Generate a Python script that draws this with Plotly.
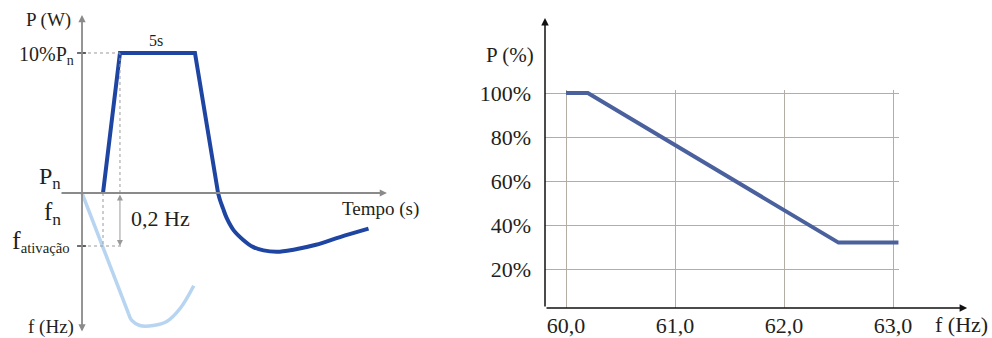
import plotly.graph_objects as go

W, H = 992, 338

# ---- Left diagram: power response to an over-frequency event ----
# time in s, power step in % of Pn, frequency deviation in Hz above fn
T_POWER = [1.4, 2.53, 7.53, 9.07]
P_POWER = [0, 10, 10, 0]
T_RECOVERY = [9.07, 9.2, 9.4, 9.65, 10.1, 10.75, 11.4, 12.1, 13.0, 14.1, 15.6, 17.2, 19.1]
P_RECOVERY = [0, -0.5, -1.1, -1.8, -2.65, -3.35, -3.85, -4.1, -4.2, -4.05, -3.7, -3.15, -2.55]
T_FREQ_RISE = [0, 3.1]
DF_FREQ_RISE = [0, 0.455]
T_FREQ_CURVE = [3.1, 3.3, 3.85, 4.75, 5.65, 6.55, 7.45]
DF_FREQ_CURVE = [0.455, 0.48, 0.5, 0.5, 0.485, 0.435, 0.35]
P_STEP = 10          # 10% Pn
DF_ACTIVATION = 0.2  # 0,2 Hz

# ---- Right chart: power limit vs frequency ----
F_HZ = [60.0, 60.2, 62.5, 63.05]
P_PCT = [100, 100, 32, 32]
X_TICKS = [60, 61, 62, 63]
X_TICK_TEXT = ["60,0", "61,0", "62,0", "63,0"]
Y_TICKS = [20, 40, 60, 80, 100]
Y_TICK_TEXT = ["20%", "40%", "60%", "80%", "100%"]

FONT = "Liberation Serif, Times New Roman, DejaVu Serif, serif"
TXT = "#231f20"
DARK_BLUE = "#1f45a3"
LIGHT_BLUE = "#b7d4f1"
LINE_RIGHT = "#4a619d"
GRID = "#b3ada5"
AXIS_GRAY = "#8a8a8a"
GUIDE = "#9a9a9a"

fig = go.Figure()

fig.add_trace(go.Scatter(x=T_FREQ_RISE, y=DF_FREQ_RISE, mode="lines", xaxis="x", yaxis="y3",
                         line=dict(color=LIGHT_BLUE, width=3.5), hoverinfo="skip"))
fig.add_trace(go.Scatter(x=T_FREQ_CURVE, y=DF_FREQ_CURVE, mode="lines", xaxis="x", yaxis="y3",
                         line=dict(color=LIGHT_BLUE, width=3.5, shape="spline", smoothing=1),
                         hoverinfo="skip"))
fig.add_trace(go.Scatter(x=T_POWER, y=P_POWER, mode="lines", xaxis="x", yaxis="y",
                         line=dict(color=DARK_BLUE, width=4), hoverinfo="skip"))
fig.add_trace(go.Scatter(x=T_RECOVERY, y=P_RECOVERY, mode="lines", xaxis="x", yaxis="y",
                         line=dict(color=DARK_BLUE, width=4, shape="spline", smoothing=1),
                         hoverinfo="skip"))
fig.add_trace(go.Scatter(x=F_HZ, y=P_PCT, mode="lines", xaxis="x2", yaxis="y2",
                         line=dict(color=LINE_RIGHT, width=4), hoverinfo="skip"))

# left diagram axis ranges (no visible scale)
XL = [-1.467, 20.533]
PL = [-10.143, 13.071]
FL = [0.5358, -0.6906]   # frequency grows downward
XR = [59.807, 63.055]
YR = [2.27, 101.4]

t_ramp, t_top = T_POWER[0], T_POWER[1]

shapes = [
    # guide lines
    dict(type="line", xref="x", yref="y", x0=0, x1=t_top, y0=P_STEP, y1=P_STEP,
         line=dict(color=GUIDE, width=1, dash="dot")),
    dict(type="line", xref="x", yref="y", x0=t_top, x1=t_top, y0=0, y1=P_STEP,
         line=dict(color=GUIDE, width=1, dash="dot")),
    dict(type="line", xref="x", yref="y3", x0=0, x1=t_top + 0.13, y0=DF_ACTIVATION, y1=DF_ACTIVATION,
         line=dict(color=GUIDE, width=1, dash="dot")),
    dict(type="line", xref="x", yref="y3", x0=t_ramp, x1=t_ramp, y0=0, y1=DF_ACTIVATION,
         line=dict(color=GUIDE, width=1, dash="dot")),
    # tick marks on the vertical axis
    dict(type="line", xref="x", yref="y", x0=-0.33, x1=0.27, y0=P_STEP, y1=P_STEP,
         line=dict(color="#222", width=1.3)),
    dict(type="line", xref="x", yref="y3", x0=-0.33, x1=0.27, y0=DF_ACTIVATION, y1=DF_ACTIVATION,
         line=dict(color="#222", width=1.3)),
]

annotations = []


def arrow(x, y, ax, ay, xref, yref, color, width, side="end", size=1.0):
    annotations.append(dict(x=x, y=y, ax=ax, ay=ay, xref=xref, yref=yref, axref=xref, ayref=yref,
                            text="", showarrow=True, arrowhead=2, arrowside=side,
                            arrowsize=size, arrowwidth=width, arrowcolor=color))


# left axes
arrow(20.33, 0, XL[0], 0, "x", "y", AXIS_GRAY, 1.8, size=0.8)
arrow(0, 12.714, 0, -10.0, "x", "y", AXIS_GRAY, 1.8, side="end+start", size=0.8)
# 0,2 Hz span
arrow(t_top, DF_ACTIVATION, t_top, 0, "x", "y3", GUIDE, 1, side="end+start", size=1.2)
# right axes
arrow(63.68, YR[0], XR[0], YR[0], "x2", "y2", "#111", 1.5, size=1.0)
arrow(XR[0], 134.1, XR[0], YR[0], "x2", "y2", "#111", 1.5, size=1.0)


def label(text, px, py, size, xanchor="center", yanchor="middle"):
    annotations.append(dict(text=text, x=px / W, y=1 - py / H, xref="paper", yref="paper",
                            xanchor=xanchor, yanchor=yanchor, showarrow=False,
                            font=dict(family=FONT, size=size, color=TXT)))


label("P (W)", 73, 20, 19, "right")
label("10%P<sub>n</sub>", 76, 55, 20, "right")
label("P<sub>n</sub>", 63, 178, 24, "right")
label("f<sub>n</sub>", 63, 213, 25, "right")
label("<span style='font-size:26px'>f</span><sub>ativação</sub>", 72, 241, 21, "right")
label("f (Hz)", 76, 327, 19, "right")
label("5s", 156, 41, 16)
label("0,2 Hz", 129, 218, 22, "left")
label("Tempo (s)", 340, 209, 19, "left")
label("P (%)", 484, 55, 21, "left")
label("f (Hz)", 933, 324, 22, "left")

fig.update_layout(
    template="none",
    width=W, height=H,
    margin=dict(l=0, r=0, t=0, b=0, pad=0),
    font=dict(family=FONT, color=TXT),
    paper_bgcolor="white", plot_bgcolor="white",
    showlegend=False,
    xaxis=dict(domain=[60 / W, 390 / W], range=XL, visible=False, fixedrange=True,
               automargin=False),
    yaxis=dict(domain=[1 - 335 / H, 1 - 10 / H], range=PL, visible=False, fixedrange=True,
               automargin=False),
    yaxis3=dict(overlaying="y", range=FL, visible=False, fixedrange=True, automargin=False),
    xaxis2=dict(domain=[545 / W, 899 / W], anchor="y2", range=XR, tickvals=X_TICKS,
                ticktext=X_TICK_TEXT, showgrid=True, gridcolor=GRID, gridwidth=1.2,
                zeroline=False, showline=False, ticks="", ticklabelstandoff=2,
                tickfont=dict(family=FONT, size=22, color=TXT), fixedrange=True,
                automargin=False),
    yaxis2=dict(domain=[1 - 308 / H, 1 - 90 / H], anchor="x2", range=YR, tickvals=Y_TICKS,
                ticktext=Y_TICK_TEXT, showgrid=True, gridcolor=GRID, gridwidth=1.2,
                zeroline=False, showline=False, ticks="", ticklabelstandoff=13,
                tickfont=dict(family=FONT, size=22, color=TXT), fixedrange=True,
                automargin=False),
    shapes=shapes,
    annotations=annotations,
)

fig.write_html("out.html", config={"displayModeBar": False})
